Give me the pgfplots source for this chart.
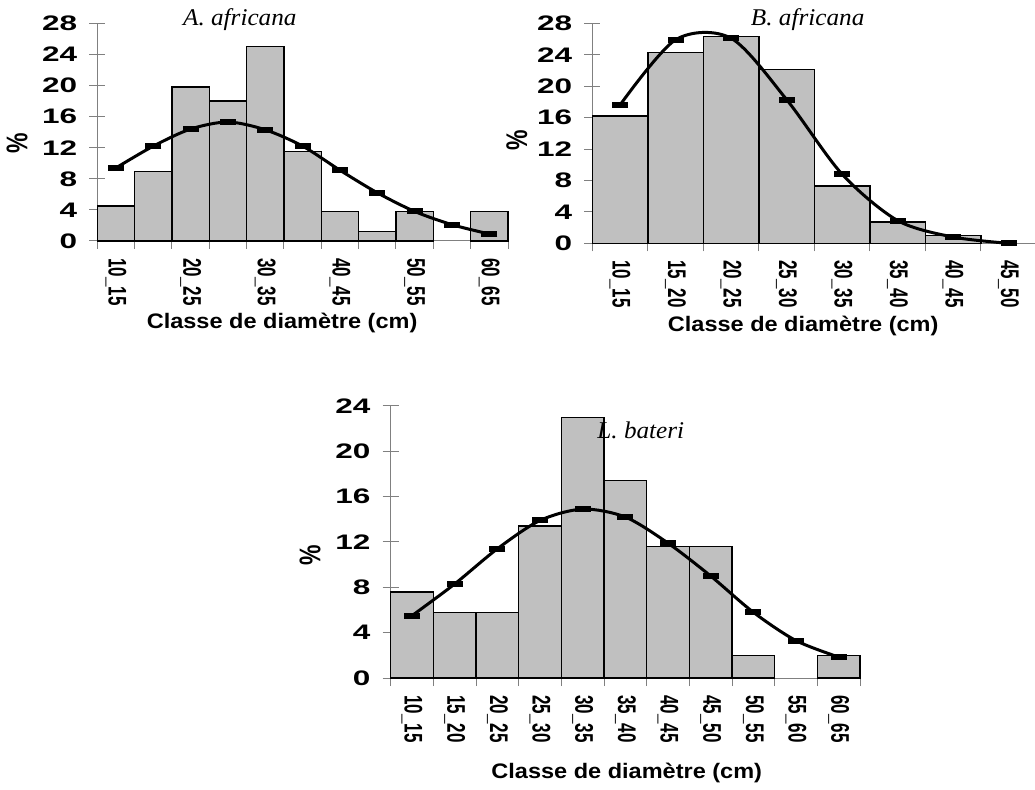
\documentclass[border=0pt]{standalone}
\usepackage{pgfplots}
\pgfplotsset{compat=1.18}
\usepackage{fontspec}
\setmainfont{Liberation Sans}
\newfontfamily\tnr{Liberation Serif}
\usepackage{graphicx}

\newcommand\hs[1]{\scalebox{1.5}[1]{#1}}
\newcommand\vs[1]{\scalebox{1}[1.5]{#1}}
\newcommand\lab{\fontsize{21}{24}\selectfont\bfseries}
\newcommand\xtl{\fontsize{17}{20}\selectfont\bfseries}
\newcommand\xlab{\fontsize{21}{24}\selectfont\bfseries}
\newcommand\ttl{\fontsize{24}{28}\selectfont\tnr\itshape}

\definecolor{barfill}{RGB}{192,192,192}
\definecolor{axgray}{RGB}{128,128,128}

\pgfplotsset{
  hist/.style={
    scale only axis,
    anchor=south west,
    clip=false,
    axis x line*=bottom,
    axis y line*=left,
    axis line style={axgray, line width=1pt},
    ymin=0, xmin=-0.5,
    tick align=center,
    major tick length=16pt,
    tick style={axgray, line width=1pt},
    yticklabel style={font=\lab, anchor=east, inner sep=0pt, xshift=-12pt},
    x tick label as interval,
    xticklabel style={rotate=-90, anchor=west, font=\xtl, inner ysep=0pt, inner xsep=0pt, xshift=9pt},
    xlabel={\scalebox{1.12}[1]{Classe de diamètre (cm)}},
    xlabel style={font=\xlab, anchor=center},
    ylabel={\scalebox{1}[1.3]{\%}},
    ylabel style={font=\fontsize{23}{26}\selectfont\bfseries, anchor=center},
  },
  bars/.style={ybar, bar width=1, fill=barfill, draw=black, line width=1.4pt},
  curve/.style={black, line width=3pt, smooth, mark=-, mark size=8pt, mark options={line width=6pt, solid}},
}

\begin{document}
\begin{tikzpicture}
\path[use as bounding box] (0pt,0pt) rectangle (1035pt,789pt);

% A. africana
\begin{axis}[hist, at={(97.3pt,548pt)}, width=410.7pt, height=217.7pt,
  xmax=10.5, ymax=28,
  ytick={0,4,...,28},
  yticklabels={\hs{0},\hs{4},\hs{8},\hs{12},\hs{16},\hs{20},\hs{24},\hs{28}},
  xtick={-0.5,0.5,...,10.5},
  xticklabels={\vs{10\_15},,\vs{20\_25},,\vs{30\_35},,\vs{40\_45},,\vs{50\_55},,\vs{60\_65}},
  xlabel style={at={(rel axis cs:0.45,-0.375)}},
  ylabel style={at={(rel axis cs:-0.195,0.45)}},
]
\addplot[bars] coordinates {(0,4.5) (1,8.9) (2,19.8) (3,18.0) (4,25.0) (5,11.5) (6,3.8) (7,1.2) (8,3.8) (10,3.8)};
\addplot[curve] coordinates {(0,9.4) (1,12.2) (2,14.4) (3,15.3) (4,14.3) (5,12.2) (6,9.1) (7,6.2) (8,3.8) (9,2.1) (10,0.9)};
\node[font=\ttl] at (rel axis cs:0.347,1.015) {\scalebox{1.05}[1]{A. africana}};
\end{axis}

% B. africana
\begin{axis}[hist, at={(592.3pt,545.7pt)}, width=444pt, height=220pt,
  xmax=7.5, ymax=28,
  ytick={0,4,...,28},
  yticklabels={\hs{0},\hs{4},\hs{8},\hs{12},\hs{16},\hs{20},\hs{24},\hs{28}},
  xtick={-0.5,0.5,...,7.5},
  xticklabels={\vs{10\_15},\vs{15\_20},\vs{20\_25},\vs{25\_30},\vs{30\_35},\vs{35\_40},\vs{40\_45},\vs{45\_50}},
  xlabel style={at={(rel axis cs:0.475,-0.374)}},
  ylabel style={at={(rel axis cs:-0.17,0.47)}},
]
\addplot[bars] coordinates {(0,16.2) (1,24.3) (2,26.3) (3,22.1) (4,7.3) (5,2.7) (6,1.0)};
\addplot[curve] coordinates {(0,17.6) (1,25.9) (2,26.1) (3,18.3) (4,8.8) (5,2.9) (6,0.8) (7,0.0)};
\node[font=\ttl] at (rel axis cs:0.485,1.015) {\scalebox{1.05}[1]{B. africana}};
\end{axis}

% L. bateri
\begin{axis}[hist, at={(390.7pt,111pt)}, width=469.3pt, height=272pt,
  xmax=10.5, ymax=24,
  ytick={0,4,...,24},
  yticklabels={\hs{0},\hs{4},\hs{8},\hs{12},\hs{16},\hs{20},\hs{24}},
  xtick={-0.5,0.5,...,10.5},
  xticklabels={\vs{10\_15},\vs{15\_20},\vs{20\_25},\vs{25\_30},\vs{30\_35},\vs{35\_40},\vs{40\_45},\vs{45\_50},\vs{50\_55},\vs{55\_60},\vs{60\_65}},
  xlabel style={at={(rel axis cs:0.503,-0.349)}},
  ylabel style={at={(rel axis cs:-0.172,0.452)}},
]
\addplot[bars] coordinates {(0,7.6) (1,5.8) (2,5.8) (3,13.4) (4,23.0) (5,17.4) (6,11.6) (7,11.6) (8,2.0) (10,2.0)};
\addplot[curve] coordinates {(0,5.5) (1,8.3) (2,11.4) (3,13.9) (4,14.9) (5,14.2) (6,11.9) (7,9.0) (8,5.8) (9,3.3) (10,1.85)};
\node[font=\ttl] at (rel axis cs:0.533,0.912) {\scalebox{1.05}[1]{L. bateri}};
\end{axis}
\end{tikzpicture}
\end{document}
